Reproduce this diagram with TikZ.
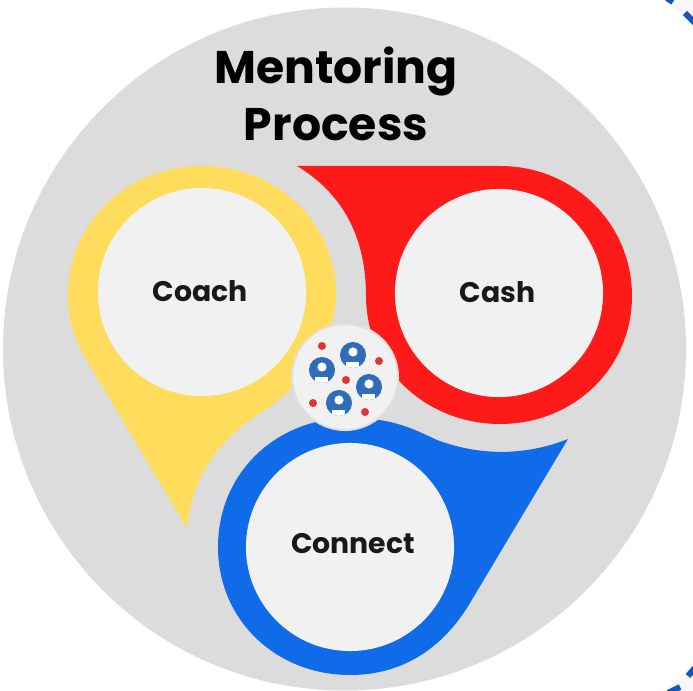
\documentclass[tikz,border=0pt]{standalone}
\usepackage{fontspec}
\setmainfont{Poppins}
\definecolor{plate}{HTML}{DCDCDC}
\definecolor{disc}{HTML}{F1F1F1}
\definecolor{coachy}{HTML}{FFDC5C}
\definecolor{cashr}{HTML}{FF1A1A}
\definecolor{connectb}{HTML}{0F6BE8}
\definecolor{iconb}{HTML}{2F6DB8}
\definecolor{dotr}{HTML}{DE3535}
\definecolor{cornerb}{HTML}{1656BE}

\begin{document}
\begin{tikzpicture}[
        x = 0.01cm, % one unit is one pixel
        y = -0.01cm,
        line cap = butt
      ]

      \tikzstyle{label}=[font=\bfseries\fontsize{8.05}{10}\selectfont,text=black!90]
      \tikzstyle{heading}=[font=\bfseries\fontsize{13}{16}\selectfont,text=black,align=center]
      \tikzstyle{inner}=[circle,fill=disc,minimum size=2.08cm,inner sep=0pt]
      \tikzstyle{person}=[circle,fill=iconb,minimum size=0.26cm,inner sep=0pt]
      \tikzstyle{spot}=[circle,fill=dotr,minimum size=0.08cm,inner sep=0pt]
      \tikzstyle{corner}=[cornerb,line width=0.06cm]

      \useasboundingbox (0,0) rectangle (693,691);

      \fill[disc!60!white] (693,0) -- (665,0) -- (693,26) -- cycle;
      \fill[disc!60!white] (693,691) -- (665,691) -- (693,665) -- cycle;
      \draw[corner] (667,-2) -- (673,2);
      \draw[corner] (685,13) -- (695,23);
      \draw[corner] (688,676) -- (695,668);
      \draw[corner] (668,693) -- (680,687);

      \fill[plate] (344.5,349) circle (341.5);

      % the three drops
      \fill[coachy] (187,528) -- (90,366)
        .. controls (74,340) and (68,320) .. (68,295)
        .. controls (68,222) and (128,166) .. (202,166)
        .. controls (276,166) and (336,222) .. (336,295)
        .. controls (336,345) and (295,392) .. (260,413)
        .. controls (215,442) and (192,480) .. (187,528) -- cycle;
      \fill[cashr] (297,166) -- (500,166)
        .. controls (574,166) and (632,224) .. (632,296)
        .. controls (632,368) and (574,424) .. (500,424)
        .. controls (426,424) and (366,368) .. (366,296)
        .. controls (366,240) and (345,195) .. (297,166) -- cycle;
      \fill[connectb] (568,439) -- (470,603)
        .. controls (455,628) and (420,675) .. (350,675)
        .. controls (276,675) and (218,620) .. (218,547)
        .. controls (218,473) and (276,418) .. (350,418)
        .. controls (395,418) and (415,430) .. (437,440)
        .. controls (480,456) and (525,456) .. (568,439) -- cycle;

      \node[inner] (coach) at (202,292) {};
      \node[inner] (cash) at (499,293) {};
      \node[inner] (connect) at (350,547) {};
      \node[label] (coachtext) at (200.5,291) {Coach};
      \node[label] (cashtext) at (497.5,292) {Cash};
      \node[label] (connecttext) at (353,544) {Connect};
      \node[heading] (title) at (336,94) {Mentoring\\Process};

      % hub in the middle
      \node[circle,fill=disc,draw=black!12,line width=0.02cm,minimum size=1.06cm,inner sep=0pt] (hub) at (345,377) {};

      \foreach \name/\px/\py in {a/322/370, b/353/355, c/369/387, d/339/403} {
        \node[person] (\name) at (\px,\py) {};
        \fill[white] (\px,\py-3) circle (4.6);
        \begin{scope}
          \clip (\px,\py) circle (13);
          \fill[white] (\px-6.5,\py+7) rectangle (\px+6.5,\py+14);
        \end{scope}
      }
      \foreach \name/\px/\py in {p/322/346, q/379/361, r/346/380, s/313/403, t/365/412} {
        \node[spot] (\name) at (\px,\py) {};
      }

    \end{tikzpicture}
\end{document}
